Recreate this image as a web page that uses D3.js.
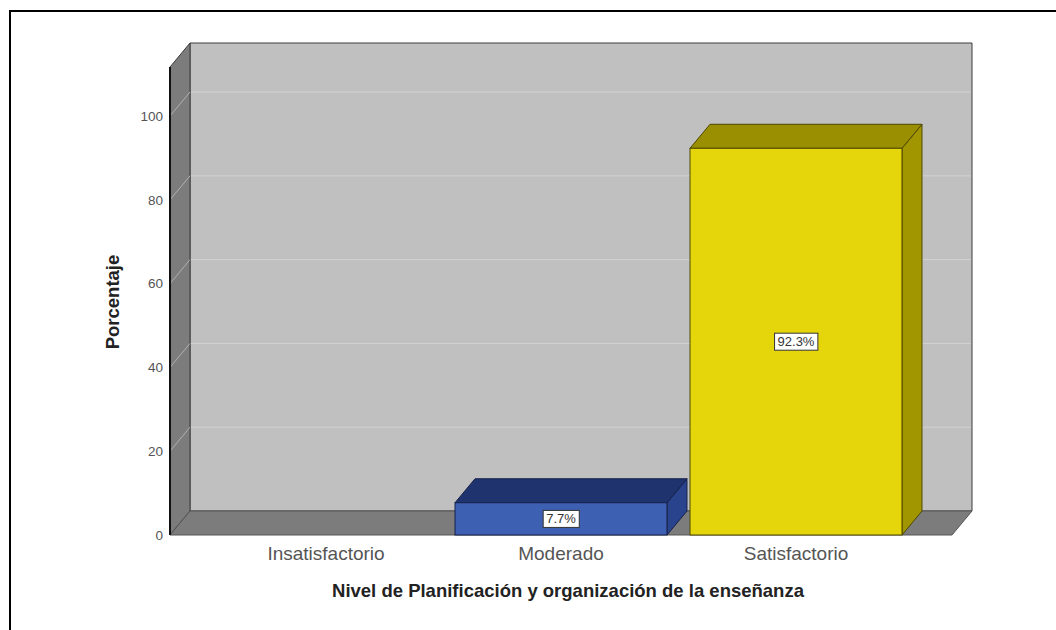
<!DOCTYPE html>
<html>
<head>
<meta charset="utf-8">
<script src="https://cdn.jsdelivr.net/npm/d3@7"></script>
<style>
  html, body { margin: 0; padding: 0; background: #fff; }
  svg { display: block; }
</style>
</head>
<body>
<svg id="chart" width="1056" height="630"></svg>
<script>
// Distribution of the planning & organisation level (percent of respondents)
const categories = ["Insatisfactorio", "Moderado", "Satisfactorio"];
const percentages = [0, 7.7, 92.3];
const valueLabels = ["", "7.7%", "92.3%"];
const yTicks = [0, 20, 40, 60, 80, 100];
const yTitle = "Porcentaje";
const xTitle = "Nivel de Planificación y organización de la enseñanza";

const barFront = ["#3e60b2", "#3e60b2", "#e5d60c"];
const barTop   = ["#1f336f", "#1f336f", "#9a8f00"];
const barSide  = ["#29438c", "#29438c", "#a19600"];
const barEdge  = ["#17214a", "#17214a", "#4f4800"];

const svg = d3.select("#chart");

// outer frame (top and left edges)
svg.append("line").attr("x1", 10).attr("y1", 11).attr("x2", 1056).attr("y2", 11)
  .attr("stroke", "#000").attr("stroke-width", 2);
svg.append("line").attr("x1", 10).attr("y1", 10).attr("x2", 10).attr("y2", 630)
  .attr("stroke", "#000").attr("stroke-width", 2);

// plot geometry: front plane plus an oblique depth offset
const x0 = 170, x1 = 952;
const dx = 20, dy = 24;

const y = d3.scaleLinear().domain([0, 111.7]).range([535, 67]);
const x = d3.scaleBand().domain(categories)
  .range([208.5, 913.5]).paddingInner(0.098).paddingOuter(0.049);

const yTop = y.range()[1], yBase = y(0);
const poly = pts => pts.map(p => p.join(",")).join(" ");

// back wall
svg.append("polygon")
  .attr("points", poly([[x0 + dx, yTop - dy], [x1 + dx, yTop - dy], [x1 + dx, yBase - dy], [x0 + dx, yBase - dy]]))
  .attr("fill", "#c0c0c0").attr("stroke", "#3c3c3c").attr("stroke-width", 1);

// gridlines on the back wall
svg.append("g").selectAll("line").data(yTicks.filter(t => t > 0)).join("line")
  .attr("x1", x0 + dx + 1).attr("x2", x1 + dx - 1)
  .attr("y1", d => y(d) - dy).attr("y2", d => y(d) - dy)
  .attr("stroke", "#d2d2d2").attr("stroke-width", 1);

// left wall
svg.append("polygon")
  .attr("points", poly([[x0, yTop], [x0 + dx, yTop - dy], [x0 + dx, yBase - dy], [x0, yBase]]))
  .attr("fill", "#7c7c7c").attr("stroke", "#3c3c3c").attr("stroke-width", 1);

// tick guides across the left wall
svg.append("g").selectAll("line").data(yTicks.filter(t => t > 0)).join("line")
  .attr("x1", x0).attr("x2", x0 + dx)
  .attr("y1", d => y(d)).attr("y2", d => y(d) - dy)
  .attr("stroke", "#b0b0b0").attr("stroke-width", 1);

// floor
svg.append("polygon")
  .attr("points", poly([[x0, yBase], [x0 + dx, yBase - dy], [x1 + dx, yBase - dy], [x1, yBase]]))
  .attr("fill", "#7c7c7c").attr("stroke", "#555").attr("stroke-width", 1);

// value axis line
svg.append("line").attr("x1", x0).attr("x2", x0).attr("y1", yTop).attr("y2", yBase)
  .attr("stroke", "#111").attr("stroke-width", 2);

// y axis tick labels
const yAxis = d3.axisLeft(y).tickValues(yTicks).tickSize(0).tickPadding(7);
const gy = svg.append("g").attr("transform", `translate(${x0},0)`).call(yAxis);
gy.select(".domain").remove();
gy.selectAll("text")
  .attr("font-family", "Liberation Sans, Arial, sans-serif")
  .attr("font-size", 13.5).attr("fill", "#555");

// 3D bars
const bars = categories.map((c, i) => ({ c, v: percentages[i], i, label: valueLabels[i] }))
  .filter(d => d.v > 0);
const bw = x.bandwidth();
const gb = svg.append("g");
bars.forEach(d => {
  const xl = x(d.c), xr = xl + bw, yt = y(d.v);
  gb.append("polygon")
    .attr("points", poly([[xr, yt], [xr + dx, yt - dy], [xr + dx, yBase - dy], [xr, yBase]]))
    .attr("fill", barSide[d.i]).attr("stroke", barEdge[d.i]).attr("stroke-width", 1);
  gb.append("polygon")
    .attr("points", poly([[xl, yt], [xl + dx, yt - dy], [xr + dx, yt - dy], [xr, yt]]))
    .attr("fill", barTop[d.i]).attr("stroke", barEdge[d.i]).attr("stroke-width", 1);
  gb.append("rect")
    .attr("x", xl).attr("y", yt).attr("width", bw).attr("height", yBase - yt)
    .attr("fill", barFront[d.i]).attr("stroke", barEdge[d.i]).attr("stroke-width", 1);

  // value label box
  const cx = xl + bw / 2, cy = (yt + yBase) / 2;
  const t = gb.append("text")
    .attr("x", cx).attr("y", cy).attr("dy", "0.35em")
    .attr("text-anchor", "middle")
    .attr("font-family", "Liberation Sans, Arial, sans-serif")
    .attr("font-size", 13).attr("fill", "#333")
    .text(d.label);
  const bb = t.node().getBBox();
  gb.insert("rect", () => t.node())
    .attr("x", bb.x - 3).attr("y", bb.y - 1).attr("width", bb.width + 6).attr("height", bb.height + 2)
    .attr("fill", "#fff").attr("stroke", "#333").attr("stroke-width", 1);
});

// category labels
svg.append("g").selectAll("text").data(categories).join("text")
  .attr("x", d => x(d) + bw / 2).attr("y", 560)
  .attr("text-anchor", "middle")
  .attr("font-family", "Liberation Sans, Arial, sans-serif")
  .attr("font-size", 19).attr("fill", "#555")
  .text(d => d);

// axis titles
svg.append("text")
  .attr("x", 568).attr("y", 597)
  .attr("text-anchor", "middle")
  .attr("font-family", "Liberation Sans, Arial, sans-serif")
  .attr("font-size", 18.5).attr("font-weight", "bold").attr("fill", "#222")
  .text(xTitle);

svg.append("text")
  .attr("transform", "translate(119,302) rotate(-90)")
  .attr("text-anchor", "middle")
  .attr("font-family", "Liberation Sans, Arial, sans-serif")
  .attr("font-size", 18.5).attr("font-weight", "bold").attr("fill", "#222")
  .text(yTitle);
</script>
</body>
</html>
